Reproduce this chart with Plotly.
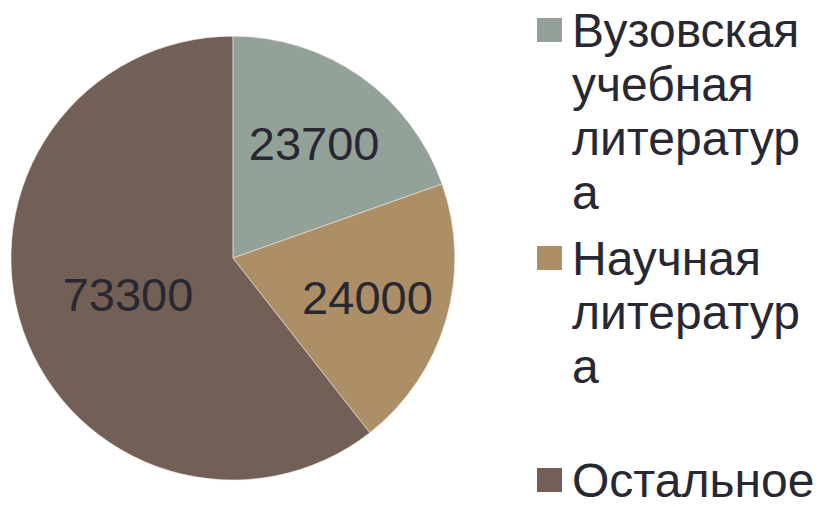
import plotly.graph_objects as go

# категории и значения
labels = ["Вузовская учебная литература", "Научная литература", "Остальное"]
legend_lines = [["Вузовская", "учебная", "литератур", "а"],
                ["Научная", "литератур", "а"],
                ["Остальное"]]
values = [23700, 24000, 73300]
colors = ["#93A299", "#AD8F67", "#725F55"]

TXT = "#282832"
FONT = "Liberation Sans, Arial"
W, H = 818, 507

fig = go.Figure(go.Pie(
    labels=labels,
    values=values,
    sort=False,
    direction="clockwise",
    rotation=0,
    marker=dict(colors=colors, line=dict(color="#F0EAE4", width=0.6)),
    texttemplate="%{value:d}",
    textposition="inside",
    insidetextorientation="horizontal",
    textfont=dict(size=47, color=TXT, family=FONT),
    showlegend=False,
    hoverinfo="label+value+percent",
    domain=dict(x=[0.0134, 0.556], y=[0.053, 0.929]),
))

# легенда как в исходнике: квадратный маркер у первой строки, плотные строки
line_step = 54
first_baselines = [47, 275, 497]
fs = 48
for lines, base, col in zip(legend_lines, first_baselines, colors):
    for i, t in enumerate(lines):
        b = base + i * line_step
        yc = b - 0.3465 * fs
        fig.add_annotation(
            x=571 / W, y=1 - yc / H, xref="paper", yref="paper",
            xanchor="left", yanchor="middle", text=t, showarrow=False,
            font=dict(size=fs, color=TXT, family=FONT), borderpad=0,
        )
    top = base - 29
    fig.add_shape(
        type="rect", xref="paper", yref="paper",
        x0=537 / W, x1=562 / W, y0=1 - top / H, y1=1 - (top + 24) / H,
        fillcolor=col, line=dict(width=0),
    )

fig.update_layout(
    width=W, height=H,
    margin=dict(l=0, r=0, t=0, b=0),
    paper_bgcolor="white",
    font=dict(family=FONT, color=TXT),
)

# убрать стандартный отступ body, чтобы рисунок начинался с (0, 0)
fig.write_html("out.html", config={"displayModeBar": False},
               post_script="document.body.style.margin='0';")
